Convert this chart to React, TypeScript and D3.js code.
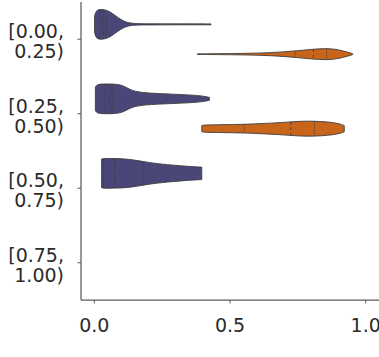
import React from "react";
import * as d3 from "d3";

const categories = ["[0.00,\n0.25)", "[0.25,\n0.50)", "[0.50,\n0.75)", "[0.75,\n1.00)"];
const hueColors = ["#4a4778", "#c8651b"];
const xTicks = [0.0, 0.5, 1.0];

// violin profiles: value positions and relative half-widths
const aX = [0.001, 0.006, 0.015, 0.03, 0.045, 0.06, 0.075, 0.09, 0.105, 0.12, 0.14, 0.17, 0.22, 0.3, 0.43];
const aW = [0.55, 0.88, 1.0, 1.0, 0.95, 0.82, 0.62, 0.42, 0.25, 0.13, 0.06, 0.04, 0.035, 0.032, 0.03];
const aQ = [0.02, 0.032, 0.044];

const bX = [0.38, 0.45, 0.55, 0.62, 0.68, 0.73, 0.77, 0.8, 0.83, 0.86, 0.89, 0.92, 0.94, 0.952];
const bW = [0.02, 0.03, 0.05, 0.08, 0.13, 0.2, 0.27, 0.32, 0.36, 0.38, 0.33, 0.2, 0.1, 0.03];
const bQ = [0.74, 0.807, 0.856];

const cX = [0.004, 0.01, 0.025, 0.06, 0.09, 0.11, 0.13, 0.15, 0.18, 0.22, 0.28, 0.37, 0.41, 0.424];
const cW = [0.8, 0.95, 1.0, 1.0, 0.97, 0.85, 0.64, 0.5, 0.42, 0.37, 0.32, 0.25, 0.16, 0.1];
const cQ = [0.04, 0.055, 0.066];

const dX = [0.396, 0.4, 0.45, 0.5, 0.55, 0.62, 0.68, 0.72, 0.76, 0.8, 0.84, 0.88, 0.91, 0.921];
const dW = [0.2, 0.24, 0.26, 0.27, 0.29, 0.34, 0.4, 0.45, 0.5, 0.51, 0.48, 0.41, 0.3, 0.2];
const dQ = [0.553, 0.724, 0.811];

const eX = [0.027, 0.04, 0.06, 0.08, 0.1, 0.13, 0.16, 0.19, 0.22, 0.25, 0.29, 0.33, 0.37, 0.396];
const eW = [0.97, 1.0, 1.0, 0.99, 0.98, 0.94, 0.86, 0.76, 0.68, 0.62, 0.55, 0.49, 0.44, 0.42];
const eQ = [0.033, 0.075, 0.18];

const violins = [
  { cat: 0, hue: 0, xs: aX, ws: aW, qs: aQ },
  { cat: 0, hue: 1, xs: bX, ws: bW, qs: bQ },
  { cat: 1, hue: 0, xs: cX, ws: cW, qs: cQ },
  { cat: 1, hue: 1, xs: dX, ws: dW, qs: dQ },
  { cat: 2, hue: 0, xs: eX, ws: eW, qs: eQ },
];

const W = 379;
const H = 357;
const left = 81;
const top = 2;
const bottom = 300;

export default function App() {
  const x = d3.scaleLinear().domain([-0.049, 1.049]).range([left, W]);
  const y = d3.scalePoint<number>().domain(categories.map((_, i) => i)).range([top, bottom]).padding(0.5);
  const step = y.step();
  const half = step * 0.2;
  const font = "DejaVu Sans, sans-serif";
  const textColor = "#2b2b2b";
  const axisColor = "#5a5a5a";

  return (
    <svg width={W} height={H} style={{ position: "absolute", left: 0, top: 0, background: "#fff" }}>
      {violins.map((v, i) => {
        const cy = (y(v.cat) as number) + (v.hue === 0 ? -1 : 1) * step * 0.2;
        const pts = v.xs.map((xv, j) => [xv, v.ws[j]] as [number, number]);
        const area = d3
          .area<[number, number]>()
          .x((d) => x(d[0]))
          .y0((d) => cy - d[1] * half)
          .y1((d) => cy + d[1] * half)
          .curve(d3.curveBasis);
        const interp = d3.scaleLinear().domain(v.xs).range(v.ws).clamp(true);
        return (
          <g key={i}>
            <path d={area(pts) || ""} fill={hueColors[v.hue]} stroke="#3d3d3d" strokeWidth={0.9} strokeLinejoin="round" />
            {v.qs.map((q, k) => {
              const w = interp(q) * half * 0.97;
              return (
                <line
                  key={k}
                  x1={x(q)}
                  x2={x(q)}
                  y1={cy - w}
                  y2={cy + w}
                  stroke="#3d3d3d"
                  strokeWidth={0.9}
                  strokeDasharray={k === 1 ? "2.7,2.7" : "1.4,1.4"}
                />
              );
            })}
          </g>
        );
      })}
      {/* spines */}
      <line x1={left} x2={left} y1={top} y2={bottom} stroke={axisColor} strokeWidth={1.25} />
      <line x1={left} x2={W} y1={bottom} y2={bottom} stroke={axisColor} strokeWidth={1.25} />
      {/* y ticks */}
      {categories.map((c, i) => {
        const ty = y(i) as number;
        const lines = c.split("\n");
        return (
          <g key={c}>
            <line x1={left - 3.5} x2={left} y1={ty} y2={ty} stroke={axisColor} strokeWidth={1} />
            <text textAnchor="end" fontFamily={font} fontSize={19} fill={textColor}>
              {lines.map((l, k) => (
                <tspan key={k} x={64} y={ty - 1 + k * 20}>
                  {l}
                </tspan>
              ))}
            </text>
          </g>
        );
      })}
      {/* x ticks */}
      {xTicks.map((t) => (
        <g key={t}>
          <line x1={x(t)} x2={x(t)} y1={bottom} y2={bottom + 3.5} stroke={axisColor} strokeWidth={1} />
          <text x={x(t)} y={331.5} textAnchor="middle" fontFamily={font} fontSize={19} fill={textColor}>
            {t.toFixed(1)}
          </text>
        </g>
      ))}
    </svg>
  );
}
